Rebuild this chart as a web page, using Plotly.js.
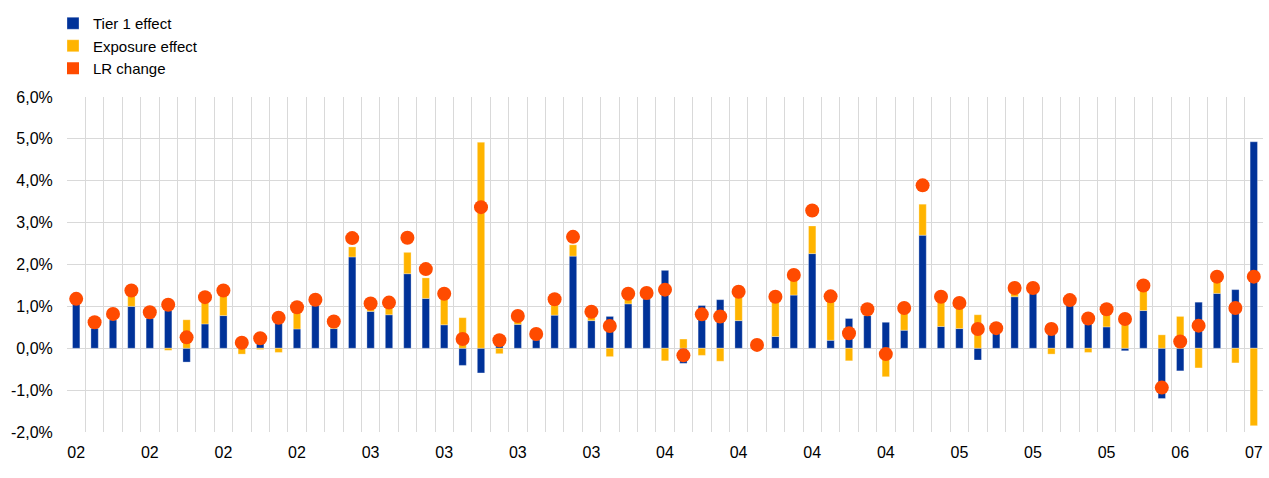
<!DOCTYPE html>
<html>
<head>
<meta charset="utf-8">
<script src="https://cdn.plot.ly/plotly-3.0.1.min.js"></script>
<style>html,body{margin:0;padding:0;background:#fff;}#chart{width:1269px;height:478px;}</style>
</head>
<body>
<div id="chart"></div>
<script>
// observation index (65 observations)
const obs = Array.from({length: 65}, (_, i) => i);
// tick labels shown every 4th observation
const tickIdx = [0,4,8,12,16,20,24,28,32,36,40,44,48,52,56,60,64];
const tickLabels = ['02','02','02','02','03','03','03','03','04','04','04','04','05','05','05','06','07'];
const yTickVals = [-2,-1,0,1,2,3,4,5,6];
const yTickLabels = ['-2,0%','-1,0%','0,0%','1,0%','2,0%','3,0%','4,0%','5,0%','6,0%'];

const tier1 = [
  1.06, 0.48, 0.68, 1.00, 0.72, 0.90, -0.33, 0.58, 0.78, 0.25,
  0.27, 0.60, 0.46, 1.02, 0.47, 2.18, 0.88, 0.80, 1.78, 1.19,
  0.56, -0.41, -0.59, 0.08, 0.57, 0.20, 0.79, 2.20, 0.66, 0.76,
  1.06, 1.18, 1.86, -0.36, 1.02, 1.16, 0.66, 0.05, 0.28, 1.27,
  2.26, 0.19, 0.71, 0.78, 0.62, 0.43, 2.70, 0.52, 0.47, -0.28,
  0.36, 1.23, 1.31, 0.60, 1.04, 0.58, 0.51, -0.06, 0.90, -1.20,
  -0.54, 1.10, 1.31, 1.40, 4.93
];
const exposure = [
  0.12, 0.14, 0.14, 0.38, 0.14, -0.05, 0.68, 0.62, 0.58, -0.14,
  -0.03, -0.10, 0.50, 0.12, 0.15, 0.24, 0.17, 0.27, 0.51, 0.49,
  0.72, 0.73, 4.92, -0.13, 0.18, 0.13, 0.36, 0.27, 0.19, -0.20,
  0.22, 0.12, -0.30, 0.22, -0.17, -0.31, 0.67, 0.03, 0.93, 0.46,
  0.66, 1.03, -0.30, 0.13, -0.68, 0.52, 0.74, 0.69, 0.59, 0.80,
  0.11, 0.20, 0.13, -0.14, 0.10, -0.10, 0.40, 0.56, 0.58, 0.32,
  0.76, -0.47, 0.38, -0.35, -1.85
];
const lrChange = [
  1.18, 0.62, 0.82, 1.38, 0.86, 1.04, 0.26, 1.22, 1.38, 0.13,
  0.24, 0.73, 0.98, 1.16, 0.64, 2.63, 1.07, 1.09, 2.64, 1.89,
  1.30, 0.22, 3.37, 0.19, 0.77, 0.34, 1.17, 2.66, 0.87, 0.53,
  1.30, 1.32, 1.40, -0.17, 0.81, 0.76, 1.35, 0.08, 1.23, 1.75,
  3.29, 1.24, 0.36, 0.93, -0.14, 0.96, 3.89, 1.23, 1.08, 0.46,
  0.48, 1.44, 1.44, 0.46, 1.15, 0.71, 0.93, 0.70, 1.50, -0.94,
  0.16, 0.54, 1.71, 0.96, 1.71
];

const BLUE = '#003299', YELLOW = '#FFB400', ORANGE = '#FF4B00';
const FONT = 'Arial, "Liberation Sans", sans-serif';
const FS = 16;

const traces = [
  {type: 'bar', name: 'Tier 1 effect', x: obs, y: tier1, width: 0.4,
   marker: {color: BLUE, line: {color: 'rgba(255,255,255,0.6)', width: 0.5}}},
  {type: 'bar', name: 'Exposure effect', x: obs, y: exposure, width: 0.4,
   marker: {color: YELLOW, line: {color: 'rgba(255,255,255,0.6)', width: 0.5}}},
  {type: 'bar', name: 'LR change', x: [null], y: [null],
   marker: {color: ORANGE}, showlegend: true, hoverinfo: 'skip'},
  {type: 'scatter', mode: 'markers', name: 'LR change', x: obs, y: lrChange,
   marker: {color: ORANGE, size: 14}, showlegend: false}
];

const layout = {
  width: 1269, height: 478,
  margin: {l: 67, r: 6, t: 97, b: 46, autoexpand: false},
  paper_bgcolor: '#fff', plot_bgcolor: '#fff',
  separators: ',.',
  barmode: 'relative',
  bargap: 0.6,
  font: {family: FONT, size: FS, color: '#000'},
  showlegend: true,
  legend: {
    xref: 'container', yref: 'container',
    x: 53/1269, y: 1 - 7/478, xanchor: 'left', yanchor: 'top',
    traceorder: 'normal', font: {family: FONT, size: 15, color: '#000'},
    bgcolor: 'rgba(0,0,0,0)', tracegroupgap: 0
  },
  xaxis: {
    range: [-0.5, 64.5], tickmode: 'array', tickvals: tickIdx, ticktext: tickLabels,
    showgrid: false, zeroline: false, showline: false, automargin: false,
    ticks: 'outside', ticklen: 6, tickcolor: 'rgba(0,0,0,0)',
    tickfont: {family: FONT, size: FS, color: '#000'},
    minor: {tickmode: 'linear', tick0: -0.5, dtick: 1, showgrid: true, gridcolor: '#d9d9d9', gridwidth: 1, ticks: ''}
  },
  yaxis: {
    range: [-2, 6], tickmode: 'array', tickvals: yTickVals, ticktext: yTickLabels,
    showgrid: true, gridcolor: '#d9d9d9', gridwidth: 1,
    zeroline: false, showline: false, automargin: false,
    ticks: 'outside', ticklen: 10, tickcolor: 'rgba(0,0,0,0)',
    tickfont: {family: FONT, size: FS, color: '#000'}
  }
};

Plotly.newPlot('chart', traces, layout, {displayModeBar: false, staticPlot: true});
</script>
</body>
</html>
